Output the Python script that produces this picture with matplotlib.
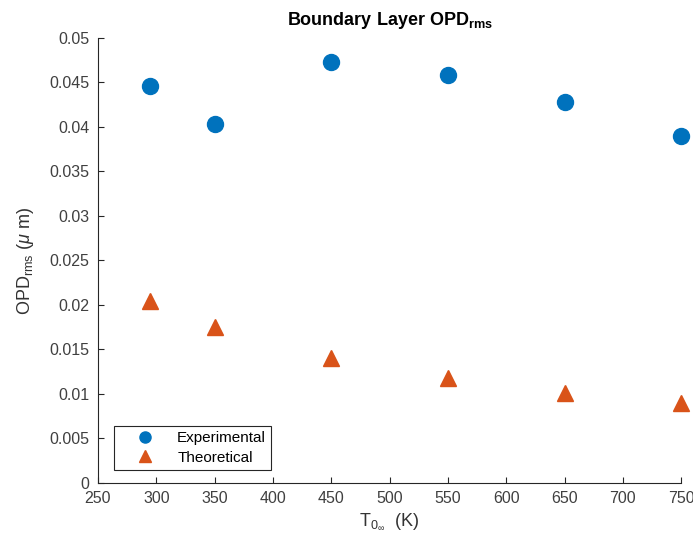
import numpy as np
import matplotlib
matplotlib.use("Agg")
import matplotlib.pyplot as plt
from matplotlib.ticker import FuncFormatter

# data
temps = [295, 350, 450, 550, 650, 750]
opd_experimental = [0.0446, 0.0403, 0.0473, 0.0458, 0.0428, 0.0390]
opd_theoretical = [0.0204, 0.0175, 0.0140, 0.0118, 0.0101, 0.0090]
x_ticks = [250, 300, 350, 400, 450, 500, 550, 600, 650, 700, 750]
y_ticks = [0, 0.005, 0.01, 0.015, 0.02, 0.025, 0.03, 0.035, 0.04, 0.045, 0.05]

plt.rcParams["font.family"] = ["Liberation Sans", "DejaVu Sans"]
plt.rcParams["mathtext.fontset"] = "custom"
plt.rcParams["mathtext.rm"] = "Liberation Sans"
plt.rcParams["mathtext.it"] = "Liberation Sans:italic"
plt.rcParams["mathtext.bf"] = "Liberation Sans:bold"

fig = plt.figure(figsize=(6.93, 5.58), dpi=100)
ax = fig.add_axes([0.1414, 0.1344, 0.8416, 0.7976])

ax.plot(temps, opd_experimental, "o", color="#0072BD", markersize=11.5,
        label="Experimental", clip_on=False, zorder=3)
ax.plot(temps, opd_theoretical, "^", color="#D95319", markersize=11.5,
        label="Theoretical", clip_on=False, zorder=3)

ax.set_xlim(250, 750)
ax.set_ylim(0, 0.05)
ax.set_xticks(x_ticks)
ax.set_yticks(y_ticks)
ax.yaxis.set_major_formatter(FuncFormatter(lambda v, p: f"{v:g}"))

for side in ("top", "right"):
    ax.spines[side].set_visible(False)
for side in ("left", "bottom"):
    ax.spines[side].set_color("#262626")
    ax.spines[side].set_linewidth(0.8)
ax.tick_params(direction="in", length=4, width=0.8, colors="#262626",
               labelsize=11.5, pad=6)
for lbl in ax.get_xticklabels() + ax.get_yticklabels():
    lbl.set_color("#404040")

ax.set_title(r"Boundary Layer OPD$_{\mathbf{rms}}$", fontsize=13, fontweight="bold", pad=9)
ax.set_xlabel(r"T$_{0_{\infty}}$  (K)", fontsize=13, color="#333333", labelpad=4)
ax.set_ylabel(r"OPD$_{\mathrm{rms}}$ ($\mu$ m)", fontsize=13, color="#333333", labelpad=10)

leg = ax.legend(loc="lower left", bbox_to_anchor=(0.027, 0.029), fancybox=False,
                edgecolor="#262626", framealpha=1, fontsize=11, borderaxespad=0,
                handletextpad=0.45, handlelength=3.35, borderpad=0.35, labelspacing=0.35)
leg.get_frame().set_linewidth(0.8)
for h in leg.legend_handles:
    h.set_markersize(8)

fig.savefig("out.png", dpi=100)
